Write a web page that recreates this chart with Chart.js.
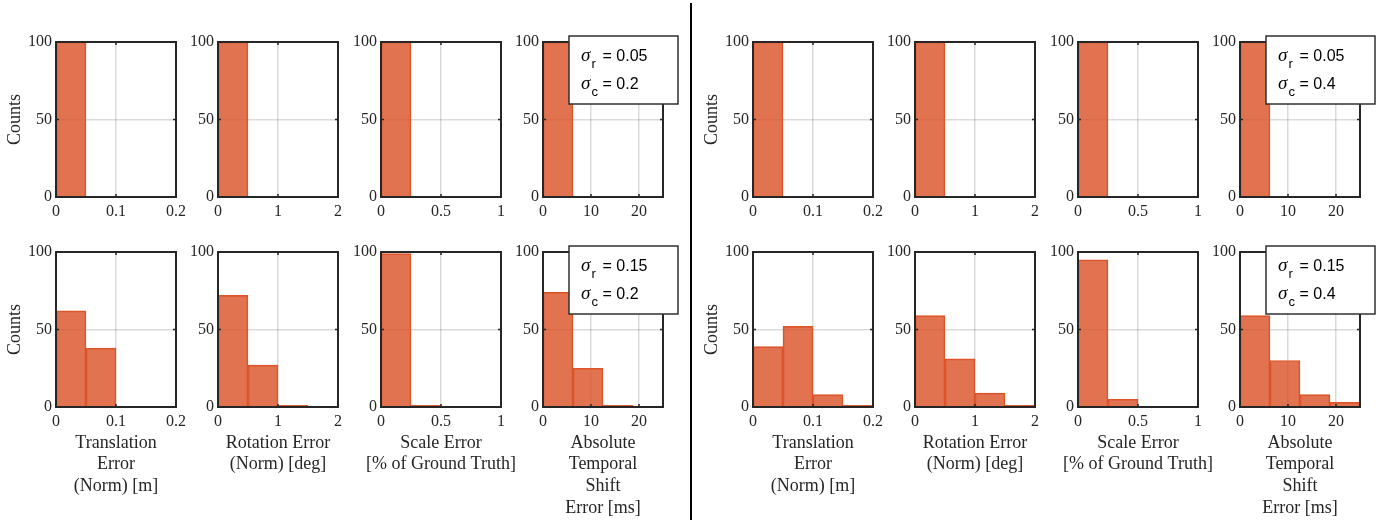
<!DOCTYPE html>
<html><head><meta charset="utf-8">
<script src="https://cdn.jsdelivr.net/npm/chart.js@4.4.1/dist/chart.umd.min.js"></script>
<style>
html,body{margin:0;padding:0;background:#fff;}
body{width:1396px;height:520px;position:relative;overflow:hidden;}
canvas{position:absolute;}
#divider{position:absolute;left:690px;top:3px;width:2px;height:517px;background:#000;}
</style></head><body>
<div id="divider"></div>
<script>
// ---------- DATA ----------
// histogram bin edges per metric
const translationEdges = [0, 0.05, 0.1, 0.15, 0.2];
const rotationEdges    = [0, 0.5, 1, 1.5, 2];
const scaleEdges       = [0, 0.25, 0.5, 0.75, 1];
const temporalEdges    = [0, 6.25, 12.5, 18.75, 25];

// x tick values / labels per metric
const translationTicks = [0, 0.1, 0.2];
const translationTickLabels = ['0', '0.1', '0.2'];
const rotationTicks = [0, 1, 2];
const rotationTickLabels = ['0', '1', '2'];
const scaleTicks = [0, 0.5, 1];
const scaleTickLabels = ['0', '0.5', '1'];
const temporalTicks = [0, 10, 20];
const temporalTickLabels = ['0', '10', '20'];
// y ticks
const countTicks = [0, 50, 100];
const countTickLabels = ['0', '50', '100'];

// x axis titles (bottom row)
const translationTitle = ['Translation', 'Error', '(Norm) [m]'];
const rotationTitle = ['Rotation Error', '(Norm) [deg]'];
const scaleTitle = ['Scale Error', '[% of Ground Truth]'];
const temporalTitle = ['Absolute', 'Temporal', 'Shift', 'Error [ms]'];
const yTitle = 'Counts';

// legend parameter values
const sigmaRValues = ['0.05', '0.15'];   // rows
const sigmaCValues = ['0.2', '0.4'];     // groups (left, right)

// counts: sigma_c = 0.2 (left group)
const transC02R005 = [100, 0, 0, 0];
const rotC02R005   = [100, 0, 0, 0];
const scaleC02R005 = [100, 0, 0, 0];
const tempC02R005  = [100, 0, 0, 0];
const transC02R015 = [62, 38, 0, 0];
const rotC02R015   = [72, 27, 1, 0];
const scaleC02R015 = [99, 1, 0, 0];
const tempC02R015  = [74, 25, 1, 0];
// counts: sigma_c = 0.4 (right group)
const transC04R005 = [100, 0, 0, 0];
const rotC04R005   = [100, 0, 0, 0];
const scaleC04R005 = [100, 0, 0, 0];
const tempC04R005  = [100, 0, 0, 0];
const transC04R015 = [39, 52, 8, 1];
const rotC04R015   = [59, 31, 9, 1];
const scaleC04R015 = [95, 5, 0, 0];
const tempC04R015  = [59, 30, 8, 3];

// ---------- ASSEMBLY ----------
const metrics = [
  {edges: translationEdges, ticks: translationTicks, labels: translationTickLabels, title: translationTitle},
  {edges: rotationEdges, ticks: rotationTicks, labels: rotationTickLabels, title: rotationTitle},
  {edges: scaleEdges, ticks: scaleTicks, labels: scaleTickLabels, title: scaleTitle},
  {edges: temporalEdges, ticks: temporalTicks, labels: temporalTickLabels, title: temporalTitle}
];
const countsByGroup = [
  [[transC02R005, rotC02R005, scaleC02R005, tempC02R005],
   [transC02R015, rotC02R015, scaleC02R015, tempC02R015]],
  [[transC04R005, rotC04R005, scaleC04R005, tempC04R005],
   [transC04R015, rotC04R015, scaleC04R015, tempC04R015]]
];

// ---------- LAYOUT ----------
const groupOffset = [0, 697];
const colLeft = [56, 218, 381, 543];
const plotW = 120;
const yAxisW = 56;
const canvasW = 200;
const canvasOverhang = 40;   // extra canvas on each side for wide axis titles
const rowCanvasTop = [0, 210];
const rowCanvasH = [230, 310];
const plotTopPad = 42;
const plotH = 155;
const SERIF = '"Liberation Serif", "Times New Roman", serif';
const SANS = '"Liberation Sans", Arial, sans-serif';
const INK = '#262626';
const titleLH = 21.7;
const titleGap = 36;   // from plot bottom to centre of first title line

const framePlugin = {
  id: 'frame',
  afterDatasetsDraw(chart) {
    const {ctx, chartArea: a, scales: {x, y}} = chart;
    ctx.save();
    ctx.strokeStyle = INK;
    ctx.lineWidth = 1.5;
    const tl = 3;
    x.ticks.forEach(t => {
      const px = x.getPixelForValue(t.value);
      ctx.beginPath();
      ctx.moveTo(px, a.bottom); ctx.lineTo(px, a.bottom - tl);
      ctx.moveTo(px, a.top); ctx.lineTo(px, a.top + tl);
      ctx.stroke();
    });
    y.ticks.forEach(t => {
      const py = y.getPixelForValue(t.value);
      ctx.beginPath();
      ctx.moveTo(a.left, py); ctx.lineTo(a.left + tl, py);
      ctx.moveTo(a.right, py); ctx.lineTo(a.right - tl, py);
      ctx.stroke();
    });
    ctx.lineWidth = 2;
    ctx.strokeRect(a.left, a.top, a.right - a.left, a.bottom - a.top);
    ctx.restore();
  }
};

const xTitlePlugin = {
  id: 'xTitle',
  afterDraw(chart, args, opts) {
    if (!opts || !opts.lines) return;
    const {ctx, chartArea: a} = chart;
    ctx.save();
    ctx.font = '18px ' + SERIF;
    ctx.fillStyle = INK;
    ctx.textAlign = 'center';
    ctx.textBaseline = 'middle';
    const cx = (a.left + a.right) / 2;
    opts.lines.forEach((t, i) => ctx.fillText(t, cx, a.bottom + titleGap + i * titleLH));
    ctx.restore();
  }
};

const sigmaPlugin = {
  id: 'sigmaBox',
  afterDraw(chart, args, opts) {
    if (!opts || !opts.show) return;
    const {ctx, chartArea: a} = chart;
    const bx = a.left + 26, by = a.top - 6, bw = 109, bh = 68;
    ctx.save();
    ctx.fillStyle = '#fff';
    ctx.fillRect(bx, by, bw, bh);
    ctx.strokeStyle = '#303030';
    ctx.lineWidth = 1.5;
    ctx.strokeRect(bx, by, bw, bh);
    ctx.fillStyle = '#000';
    ctx.textBaseline = 'alphabetic';
    ctx.textAlign = 'left';
    const lines = [{sub: 'r', val: opts.r, base: by + 25}, {sub: 'c', val: opts.c, base: by + 53}];
    lines.forEach(l => {
      ctx.font = 'italic 19px ' + SERIF;
      ctx.fillText('\u03C3', bx + 12, l.base);
      ctx.font = '13px ' + SANS;
      ctx.fillText(l.sub, bx + 22.5, l.base + 7);
      ctx.font = '16px ' + SANS;
      ctx.fillText('= ' + l.val, bx + 33.5, l.base);
    });
    ctx.restore();
  }
};

function makePanel(g, row, col) {
  const m = metrics[col];
  const counts = countsByGroup[g][row][col];
  const centers = m.edges.slice(0, -1).map((e, i) => (e + m.edges[i + 1]) / 2);
  const canvas = document.createElement('canvas');
  const W = canvasW + 2 * canvasOverhang;
  const left = groupOffset[g] + colLeft[col] - yAxisW - canvasOverhang;
  const H = rowCanvasH[row];
  canvas.width = W; canvas.height = H;
  canvas.style.left = left + 'px';
  canvas.style.top = rowCanvasTop[row] + 'px';
  canvas.style.width = W + 'px';
  canvas.style.height = H + 'px';
  document.body.appendChild(canvas);

  const xAxisH = H - plotTopPad - plotH;

  new Chart(canvas, {
    type: 'bar',
    data: {
      datasets: [{
        data: centers.map((c, i) => ({x: c, y: counts[i]})),
        backgroundColor: 'rgba(221,88,48,0.84)',
        borderColor: '#DE5428',
        borderWidth: 1,
        borderSkipped: 'start',
        barPercentage: 1,
        categoryPercentage: 1
      }]
    },
    options: {
      responsive: false,
      animation: false,
      devicePixelRatio: 1,
      layout: {padding: {left: canvasOverhang, top: plotTopPad, right: canvasW - yAxisW - plotW + canvasOverhang, bottom: 0}},
      plugins: {
        legend: {display: false},
        tooltip: {enabled: false},
        sigmaBox: {show: col === 3, r: sigmaRValues[row], c: sigmaCValues[g]},
        xTitle: {lines: row === 1 ? m.title : null}
      },
      scales: {
        x: {
          type: 'linear',
          offset: false,
          min: m.edges[0],
          max: m.edges[m.edges.length - 1],
          afterBuildTicks: s => { s.ticks = m.ticks.map(v => ({value: v})); },
          afterFit: s => { s.height = xAxisH; },
          grid: {color: 'rgba(38,38,38,0.17)', lineWidth: 1.5, drawTicks: false, offset: false},
          border: {display: false},
          ticks: {
            callback: (v, i) => m.labels[i],
            font: {family: SERIF, size: 16},
            color: INK, padding: 5, maxRotation: 0, autoSkip: false
          }
        },
        y: {
          min: 0, max: 100,
          afterBuildTicks: s => { s.ticks = countTicks.map(v => ({value: v})); },
          afterFit: s => { s.width = yAxisW; },
          grid: {color: 'rgba(38,38,38,0.17)', lineWidth: 1.5, drawTicks: false},
          border: {display: false},
          ticks: {
            callback: (v, i) => countTickLabels[i],
            font: {family: SERIF, size: 16},
            color: INK, padding: 4
          },
          title: {
            display: col === 0,
            text: yTitle,
            font: {family: SERIF, size: 18, lineHeight: 1.2},
            color: INK,
            padding: {top: 4, bottom: 0}
          }
        }
      }
    },
    plugins: [framePlugin, xTitlePlugin, sigmaPlugin]
  });
}

for (let g = 0; g < 2; g++)
  for (let row = 0; row < 2; row++)
    for (let col = 0; col < 4; col++)
      makePanel(g, row, col);
</script>
</body></html>
